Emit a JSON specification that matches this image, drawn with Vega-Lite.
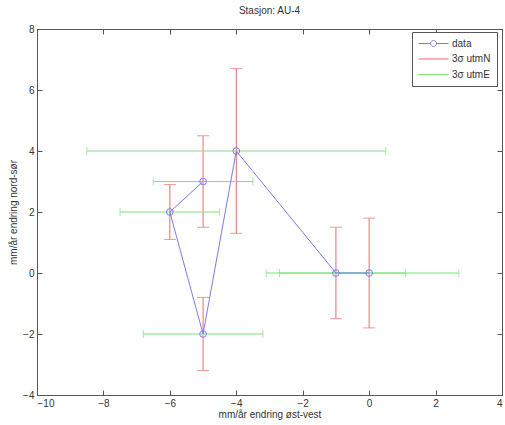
{
  "$schema": "https://vega.github.io/schema/vega-lite/v6.json",
  "width": 465,
  "height": 366,
  "autosize": "none",
  "padding": {"left": 37, "top": 29, "right": 3, "bottom": 30},
  "background": "white",
  "title": {"text": "Stasjon: AU-4", "fontSize": 10, "font": "Liberation Sans", "fontWeight": "normal", "offset": 8, "color": "#333"},
  "config": {
    "view": {"stroke": "#555"},
    "axis": {"grid": false, "labelFont": "Liberation Sans", "titleFont": "Liberation Sans", "labelFontSize": 10, "titleFontSize": 10, "titleFontWeight": "normal", "tickSize": -5, "domainColor": "#555", "tickColor": "#555", "labelColor": "#333", "titleColor": "#333", "labelPadding": 8},
    "legend": {"orient": "none", "legendX": 375, "legendY": 3, "strokeColor": "#555", "fillColor": "white", "padding": 6, "symbolType": "M-3,0H3", "symbolSize": 100, "symbolOffset": 10, "symbolStrokeWidth": 1, "labelFont": "Liberation Sans", "labelFontSize": 10, "labelColor": "#333", "rowPadding": 4.5, "labelOffset": 13, "title": null}
  },
  "data": {"values": [
    {"ord": 1, "x": -5, "y": 3, "yLo": 1.5, "yHi": 4.5, "xLo": -6.5, "xHi": -3.5},
    {"ord": 2, "x": -6, "y": 2, "yLo": 1.1, "yHi": 2.9, "xLo": -7.5, "xHi": -4.5},
    {"ord": 3, "x": -5, "y": -2, "yLo": -3.2, "yHi": -0.8, "xLo": -6.8, "xHi": -3.2},
    {"ord": 4, "x": -4, "y": 4, "yLo": 1.3, "yHi": 6.7, "xLo": -8.5, "xHi": 0.5},
    {"ord": 5, "x": -1, "y": 0, "yLo": -1.5, "yHi": 1.5, "xLo": -3.1, "xHi": 1.1},
    {"ord": 6, "x": 0, "y": 0, "yLo": -1.8, "yHi": 1.8, "xLo": -2.7, "xHi": 2.7}
  ]},
  "resolve": {"axis": {"x": "independent", "y": "independent"}},
  "layer": [
    {
      "mark": {"type": "rule", "strokeWidth": 1},
      "encoding": {
        "x": {"field": "x", "type": "quantitative", "scale": {"domain": [-10, 4], "nice": false, "zero": false}, "axis": {"title": "mm/år endring øst-vest", "values": [-10, -8, -6, -4, -2, 0, 2, 4], "titlePadding": 1}},
        "y": {"field": "yLo", "type": "quantitative", "scale": {"domain": [-4, 8], "nice": false, "zero": false}, "axis": {"title": "mm/år endring nord-sør", "values": [-4, -2, 0, 2, 4, 6, 8], "titlePadding": 4}},
        "y2": {"field": "yHi"},
        "color": {"datum": "3σ utmN", "type": "nominal", "scale": {"domain": ["data", "3σ utmN", "3σ utmE"], "range": ["#7b7bf0", "#f06a6a", "#7fe27f"]}, "legend": {"encode": {"symbols": {"update": {"fill": {"value": "transparent"}, "fillOpacity": {"value": 0}, "shape": {"signal": "datum.value === 'data' ? 'M-3,0H-0.6A0.6,0.6 0 1,1 0.6,0A0.6,0.6 0 1,1 -0.6,0M0.6,0H3' : 'M-3,0H3'"}}}}}}
      }
    },
    {
      "mark": {"type": "tick", "orient": "horizontal", "size": 12, "thickness": 1},
      "encoding": {
        "x": {"field": "x", "type": "quantitative", "axis": null},
        "y": {"field": "yLo", "type": "quantitative", "axis": null},
        "color": {"datum": "3σ utmN", "type": "nominal"}
      }
    },
    {
      "mark": {"type": "tick", "orient": "horizontal", "size": 12, "thickness": 1},
      "encoding": {
        "x": {"field": "x", "type": "quantitative", "axis": null},
        "y": {"field": "yHi", "type": "quantitative", "axis": null},
        "color": {"datum": "3σ utmN", "type": "nominal"}
      }
    },
    {
      "mark": {"type": "rule", "strokeWidth": 1},
      "encoding": {
        "x": {"field": "xLo", "type": "quantitative", "axis": {"orient": "top", "labels": false, "title": null, "values": [-10, -8, -6, -4, -2, 0, 2, 4]}},
        "x2": {"field": "xHi"},
        "y": {"field": "y", "type": "quantitative", "axis": {"orient": "right", "labels": false, "title": null, "values": [-4, -2, 0, 2, 4, 6, 8]}},
        "color": {"datum": "3σ utmE", "type": "nominal"}
      }
    },
    {
      "mark": {"type": "tick", "orient": "vertical", "size": 8, "thickness": 1},
      "encoding": {
        "x": {"field": "xLo", "type": "quantitative", "axis": null},
        "y": {"field": "y", "type": "quantitative", "axis": null},
        "color": {"datum": "3σ utmE", "type": "nominal"}
      }
    },
    {
      "mark": {"type": "tick", "orient": "vertical", "size": 8, "thickness": 1},
      "encoding": {
        "x": {"field": "xHi", "type": "quantitative", "axis": null},
        "y": {"field": "y", "type": "quantitative", "axis": null},
        "color": {"datum": "3σ utmE", "type": "nominal"}
      }
    },
    {
      "mark": {"type": "line", "strokeWidth": 1, "point": {"filled": false, "size": 45, "strokeWidth": 1}},
      "encoding": {
        "x": {"field": "x", "type": "quantitative", "axis": null},
        "y": {"field": "y", "type": "quantitative", "axis": null},
        "order": {"field": "ord", "type": "quantitative"},
        "color": {"datum": "data", "type": "nominal"}
      }
    }
  ]
}
